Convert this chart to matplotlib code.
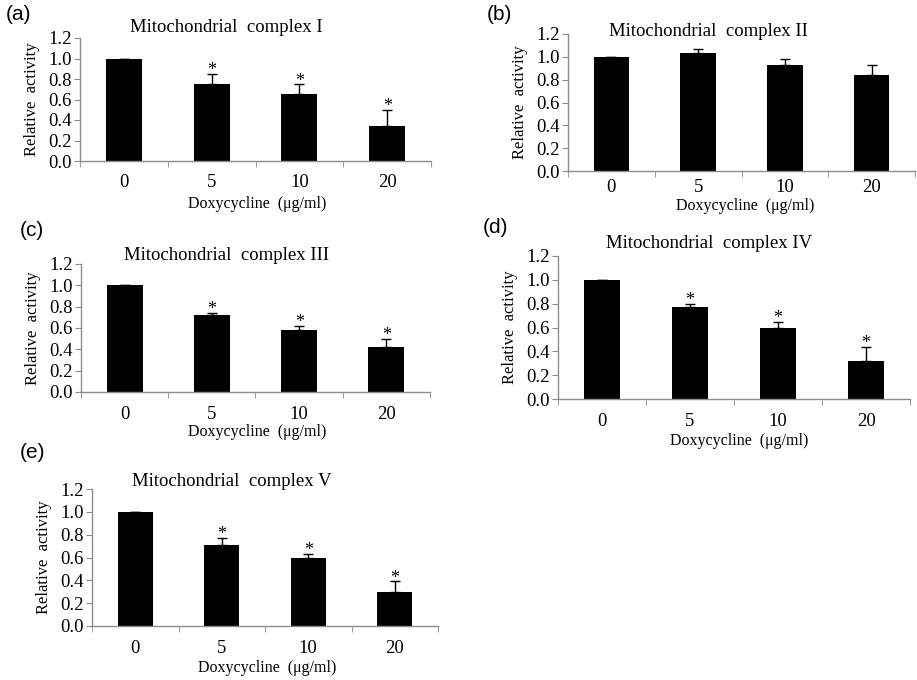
import numpy as np
import matplotlib
matplotlib.use("Agg")
import matplotlib.pyplot as plt

plt.rcParams['font.family'] = ['Liberation Serif', 'DejaVu Serif']

doses = ['0', '5', '10', '20']
titles = ['Mitochondrial  complex I', 'Mitochondrial  complex II', 'Mitochondrial  complex III',
          'Mitochondrial  complex IV', 'Mitochondrial  complex V']
letters = ['(a)', '(b)', '(c)', '(d)', '(e)']

mean_i = [1.0, 0.75, 0.65, 0.34]
err_i = [0.0, 0.10, 0.10, 0.16]
mean_ii = [1.0, 1.03, 0.93, 0.84]
err_ii = [0.0, 0.04, 0.05, 0.09]
mean_iii = [1.0, 0.72, 0.58, 0.42]
err_iii = [0.0, 0.02, 0.04, 0.08]
mean_iv = [1.0, 0.77, 0.60, 0.32]
err_iv = [0.0, 0.03, 0.05, 0.12]
mean_v = [1.0, 0.71, 0.60, 0.30]
err_v = [0.0, 0.06, 0.03, 0.09]

sig_i = [False, True, True, True]
sig_ii = [False, False, False, False]
sig_iii = [False, True, True, True]
sig_iv = [False, True, True, True]
sig_v = [False, True, True, True]

W, H = 917, 680
fig = plt.figure(figsize=(W / 100, H / 100), dpi=100)

# pixel boxes: x0, y0(top), x1, y1(bottom)
boxes = [(80, 38, 431, 161), (568, 34, 915, 171), (81, 264, 430, 392),
         (558, 256, 910, 399), (92, 489, 438, 626)]
title_pos = [(226, 28), (708, 32), (227, 255), (709, 243), (232, 482)]
xlab_pos = [(257, 204), (745, 206), (257, 432), (739, 441), (267, 668)]
letter_pos = [(6, 15), (487, 15), (20, 230), (483, 228), (20, 452)]
tick_pads = [9.5, 5.5, 10, 10, 10]

means = [mean_i, mean_ii, mean_iii, mean_iv, mean_v]
errs = [err_i, err_ii, err_iii, err_iv, err_v]
sigs = [sig_i, sig_ii, sig_iii, sig_iv, sig_v]

axis_col = '#8c8c8c'

for k in range(5):
    x0, y0, x1, y1 = boxes[k]
    ax = fig.add_axes([x0 / W, 1 - y1 / H, (x1 - x0) / W, (y1 - y0) / H])
    x = np.arange(len(doses))
    ax.bar(x, means[k], width=0.41, color='black', zorder=2)
    ax.errorbar(x, means[k], yerr=[np.zeros(4), errs[k]], fmt='none',
                ecolor='black', elinewidth=1, capsize=3.5, capthick=1, zorder=3)
    for i in range(4):
        if sigs[k][i]:
            ax.annotate('*', (x[i], means[k][i] + errs[k][i]), xytext=(0, -1),
                        textcoords='offset points', ha='center', va='baseline',
                        fontsize=13, annotation_clip=False)
    ax.set_xlim(-0.5, 3.5)
    ax.set_ylim(0, 1.2)
    ax.set_yticks(np.arange(0, 1.21, 0.2))
    ax.set_yticklabels(['%.1f' % v for v in np.arange(0, 1.21, 0.2)])
    ax.set_xticks(x)
    ax.set_xticklabels(doses)
    ax.set_xticks(np.arange(-0.5, 4, 1), minor=True)
    ax.tick_params(axis='x', which='major', length=0, labelsize=13.5, pad=tick_pads[k])
    ax.tick_params(axis='x', which='minor', length=4, color=axis_col, direction='out')
    ax.tick_params(axis='y', length=4, color=axis_col, labelsize=13.5, pad=2)
    for s in ['top', 'right']:
        ax.spines[s].set_visible(False)
    for s in ['left', 'bottom']:
        ax.spines[s].set_color(axis_col)
        ax.spines[s].set_linewidth(1)
    ax.set_ylabel('Relative  activity', fontsize=12, labelpad=6)
    ax.patch.set_alpha(0)

    tx, ty = title_pos[k]
    fig.text(tx / W, 1 - ty / H, titles[k], ha='center', va='center', fontsize=13.5)
    lx, ly = xlab_pos[k]
    fig.text(lx / W, 1 - ly / H, 'Doxycycline  (μg/ml)', ha='center', va='center', fontsize=11.5)
    px, py = letter_pos[k]
    fig.text(px / W, 1 - py / H, letters[k], ha='left', va='center', fontsize=15,
             family='Liberation Sans')

fig.savefig('out.png', dpi=100)
